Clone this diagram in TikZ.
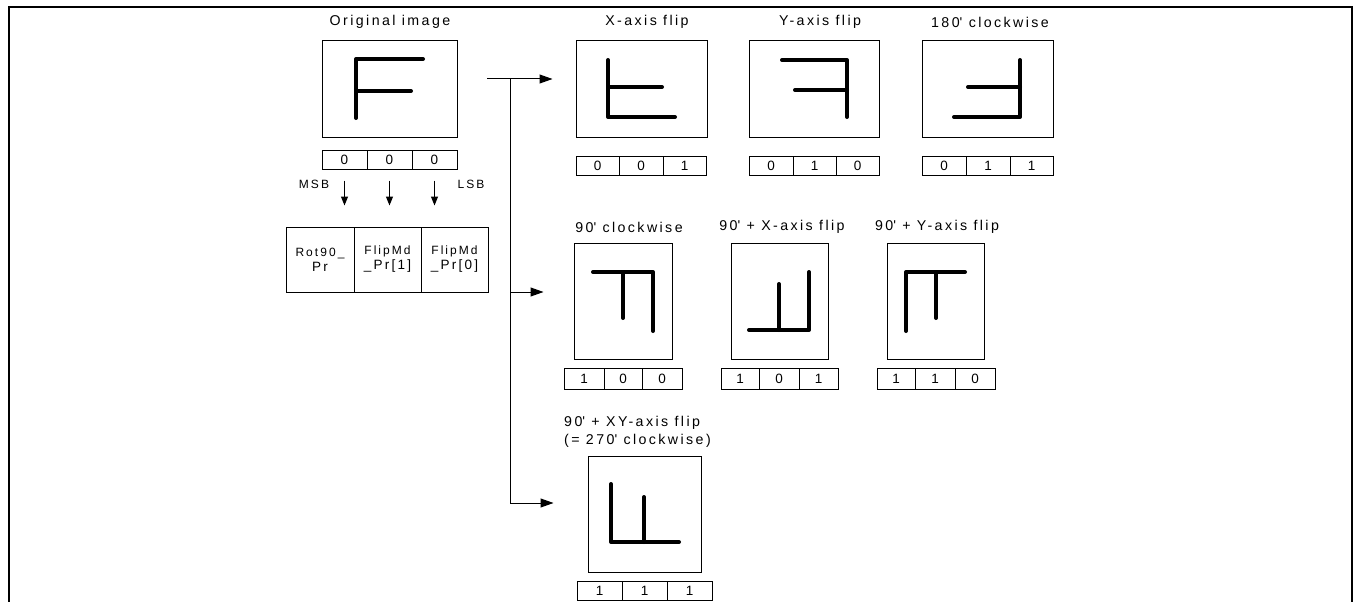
\documentclass[tikz,border=0pt]{standalone}
\usepackage{fontspec}
\setmainfont{Liberation Sans}[LetterSpace=17]
\usetikzlibrary{arrows.meta}
\newcommand\cellnode[6]{%
  \pgfmathsetmacro\cw{#3-#2}\pgfmathsetmacro\ch{#5-#4}%
  \node[cellbox,minimum width=\cw pt,minimum height=\ch pt] (#1) at ({(#2+#3)/2},{(#4+#5)/2}) {#6};}
\begin{document}
\begin{tikzpicture}[x=1pt,y=-1pt,
  cellbox/.style={draw,line width=1pt,inner sep=0pt,font=\fontsize{13.5}{15}\selectfont,align=center},
  regtext/.style={font=\fontsize{12}{17}\selectfont},
  glyph/.style={line width=4pt,line cap=round,line join=round},
  lbl/.style={font=\fontsize{14.2}{18}\selectfont,inner sep=0pt},
  conn/.style={line width=1pt,-{Triangle[length=13pt,width=9pt]}},
  down/.style={line width=1pt,-{Triangle[length=9pt,width=7pt]}}]
\useasboundingbox (0,0) rectangle (1353,602);
\draw[line width=2.5pt] (9,602) -- (9,7) -- (1352,7) -- (1352,602);

% image boxes
\cellnode{orig}{322}{457}{41}{137}{}
\cellnode{xf}{576}{707}{41}{137}{}
\cellnode{yf}{749}{879}{41}{137}{}
\cellnode{rb}{922}{1053}{41}{137}{}
\cellnode{ra}{574}{672}{243}{359}{}
\cellnode{rax}{731}{828}{243}{359}{}
\cellnode{ray}{887}{984}{243}{359}{}
\cellnode{rc}{588}{701}{456}{572}{}

% titles
\node[lbl] (t0) at (390,22) {Original image};
\node[lbl] (t1) at (647,22) {X-axis flip};
\node[lbl] (t2) at (820,22) {Y-axis flip};
\node[lbl] (t3) at (990,22) {180\textquotesingle{} clockwise};
\node[lbl] (t4) at (629,227) {90\textquotesingle{} clockwise};
\node[lbl] (t5) at (782,227) {90\textquotesingle{} + X-axis flip};
\node[lbl] (t6) at (937,227) {90\textquotesingle{} + Y-axis flip};
\node[lbl,align=left,anchor=west] (t7) at (564,432) {90\textquotesingle{} + XY-axis flip\\(= 270\textquotesingle{} clockwise)};

% bit rows
\cellnode{o1}{322}{367}{150}{169}{0}\cellnode{o2}{367}{412}{150}{169}{0}\cellnode{o3}{412}{457}{150}{169}{0}
\cellnode{x1}{576}{619}{156}{175}{0}\cellnode{x2}{619}{663}{156}{175}{0}\cellnode{x3}{663}{706}{156}{175}{1}
\cellnode{y1}{749}{793}{156}{175}{0}\cellnode{y2}{793}{836}{156}{175}{1}\cellnode{y3}{836}{879}{156}{175}{0}
\cellnode{b1}{922}{966}{156}{175}{0}\cellnode{b2}{966}{1010}{156}{175}{1}\cellnode{b3}{1010}{1053}{156}{175}{1}
\cellnode{a1}{564}{604}{368}{389}{1}\cellnode{a2}{604}{642}{368}{389}{0}\cellnode{a3}{642}{682}{368}{389}{0}
\cellnode{ax1}{721}{759}{368}{389}{1}\cellnode{ax2}{759}{799}{368}{389}{0}\cellnode{ax3}{799}{838}{368}{389}{1}
\cellnode{ay1}{877}{915}{368}{389}{1}\cellnode{ay2}{915}{955}{368}{389}{1}\cellnode{ay3}{955}{995}{368}{389}{0}
\cellnode{c1}{577}{622}{581}{600}{1}\cellnode{c2}{622}{667}{581}{600}{1}\cellnode{c3}{667}{712}{581}{600}{1}

% register
\cellnode{r1}{286}{354}{227}{292}{\fontsize{12}{17}\selectfont Rot90\_\\Pr}
\cellnode{r2}{354}{421}{227}{292}{\fontsize{12}{17}\selectfont FlipMd\\\_Pr[1]}
\cellnode{r3}{421}{488}{227}{292}{\fontsize{12}{17}\selectfont FlipMd\\\_Pr[0]}

\node[regtext,inner sep=0pt] (msb) at (314,184) {MSB};
\node[regtext,inner sep=0pt] (lsb) at (471,184) {LSB};
\draw[down] ([yshift=-11pt]o1.south) -- ++(0,25);
\draw[down] ([yshift=-11pt]o2.south) -- ++(0,25);
\draw[down] ([yshift=-11pt]o3.south) -- ++(0,25);

% glyphs
\draw[glyph] (356,118) -- (356,59) -- (423,59) (356,91) -- (411,91);
\draw[glyph] (608,60) -- (608,117) -- (675,117) (608,87) -- (662,87);
\draw[glyph] (782,60) -- (847,60) -- (847,117) (795,90) -- (847,90);
\draw[glyph] (1020,60) -- (1020,117) -- (954,117) (968,87) -- (1020,87);
\draw[glyph] (593,272) -- (653,272) -- (653,331) (623,272) -- (623,318);
\draw[glyph] (809,272) -- (809,330) -- (749,330) (779,284) -- (779,330);
\draw[glyph] (906,331) -- (906,272) -- (965,272) (936,272) -- (936,318);
\draw[glyph] (611,484) -- (611,542) -- (679,542) (644,497) -- (644,542);

% connectors
\coordinate (src) at (487,79);
\coordinate (j1) at (510,79);
\coordinate (j2) at (510,292);
\coordinate (j3) at (510,503);
\draw[conn,shorten >=23pt] (src) -- (xf.west |- src);
\draw[conn,shorten >=34pt] (j1) -- (j3) -- (rc.west |- j3);
\draw[conn,shorten >=30pt] (j2) -- (ra.west |- j2);
\end{tikzpicture}
\end{document}
